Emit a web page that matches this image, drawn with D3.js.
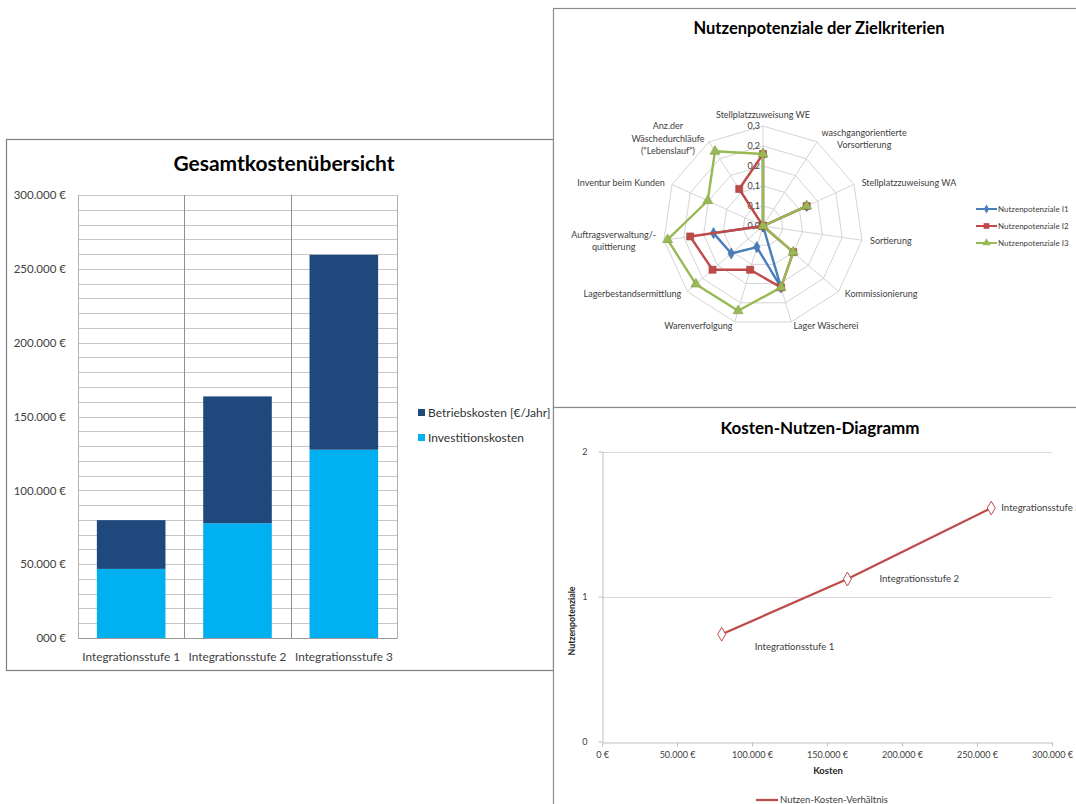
<!DOCTYPE html>
<html>
<head>
<meta charset="utf-8">
<script src="https://cdn.jsdelivr.net/npm/d3@7"></script>
<style>
  html, body { margin: 0; padding: 0; background: #fff; overflow: hidden; }
  svg { display: block; font-family: Lato, "Open Sans", sans-serif; }
</style>
</head>
<body>
<svg id="chart" width="1076" height="804"></svg>
<script>
// ---------- Gesamtkostenübersicht ----------
const stages = ["Integrationsstufe 1", "Integrationsstufe 2", "Integrationsstufe 3"];
const investitionskosten = [46800, 77700, 127500];
const betriebskosten = [33000, 85900, 132000];
const costTicks = [0, 50000, 100000, 150000, 200000, 250000, 300000];
const costTickLabels = ["000 €", "50.000 €", "100.000 €", "150.000 €", "200.000 €", "250.000 €", "300.000 €"];

// ---------- Nutzenpotenziale der Zielkriterien ----------
const criteria = [
  "Stellplatzzuweisung WE",
  "waschgangorientierte\nVorsortierung",
  "Stellplatzzuweisung WA",
  "Sortierung",
  "Kommissionierung",
  "Lager Wäscherei",
  "Warenverfolgung",
  "Lagerbestandsermittlung",
  "Auftragsverwaltung/-\nquittierung",
  "Inventur beim Kunden",
  "Anz.der\nWäschedurchläufe\n(\"Lebenslauf\")"
];
const nutzenI1 = [0.18, 0, 0.12, 0, 0, 0.16, 0.055, 0.105, 0.125, 0, 0];
const nutzenI2 = [0.18, 0, 0.12, 0, 0.10, 0.16, 0.114, 0.167, 0.184, 0, 0.11];
const nutzenI3 = [0.18, 0, 0.12, 0, 0.10, 0.16, 0.221, 0.222, 0.241, 0.152, 0.222];
const radarTicks = [0, 0.05, 0.10, 0.15, 0.20, 0.25];
const radarTickLabels = ["0,0", "0,1", "0,1", "0,2", "0,2", "0,3"];
const radarSeriesNames = ["Nutzenpotenziale I1", "Nutzenpotenziale I2", "Nutzenpotenziale I3"];

// ---------- Kosten-Nutzen-Diagramm ----------
const kosten = [79800, 163600, 259500];
const nutzen = [0.74, 1.12, 1.61];
const kostenTicks = [0, 50000, 100000, 150000, 200000, 250000, 300000];
const kostenTickLabels = ["0 €", "50.000 €", "100.000 €", "150.000 €", "200.000 €", "250.000 €", "300.000 €"];
const nutzenTicks = [0, 1, 2];

const svg = d3.select("#chart");
const axisText = "#404040";

/* ======================= Bar chart panel ======================= */
const gBar = svg.append("g");
gBar.append("rect")
  .attr("x", 6.5).attr("y", 139.5).attr("width", 547).attr("height", 531)
  .attr("fill", "#fff").attr("stroke", "#7f7f7f").attr("stroke-width", 1.2);

gBar.append("text")
  .attr("x", 284).attr("y", 164).attr("dy", "0.35em")
  .attr("text-anchor", "middle")
  .attr("font-size", 21).attr("font-weight", 700).attr("fill", "#000")
  .text("Gesamtkostenübersicht");

const xB = d3.scaleBand().domain(stages).range([78, 397]);
const yB = d3.scaleLinear().domain([0, 300000]).range([638, 195]);

// horizontal grid every 10.000 €
gBar.append("g").selectAll("line")
  .data(yB.ticks(30))
  .join("line")
  .attr("x1", 78).attr("x2", 397)
  .attr("y1", d => Math.round(yB(d)) + 0.5).attr("y2", d => Math.round(yB(d)) + 0.5)
  .attr("stroke", "#c6c6c6").attr("stroke-width", 1);

// vertical separators between categories + plot frame
const sepX = [xB.range()[0]].concat(stages.map(s => xB(s) + xB.bandwidth()));
gBar.append("g").selectAll("line")
  .data(sepX)
  .join("line")
  .attr("x1", d => Math.round(d) + 0.5).attr("x2", d => Math.round(d) + 0.5)
  .attr("y1", yB(300000)).attr("y2", yB(0))
  .attr("stroke", (d, i) => (i === 0 || i === sepX.length - 1) ? "#b0b0b0" : "#8f8f8f");

const stackRows = stages.map((s, i) => ({
  stage: s,
  Investitionskosten: investitionskosten[i],
  Betriebskosten: betriebskosten[i]
}));
const stackKeys = ["Investitionskosten", "Betriebskosten"];
const barColors = { Investitionskosten: "#00b0f0", Betriebskosten: "#1f497d" };
const stacked = d3.stack().keys(stackKeys)(stackRows);
const barW = xB.bandwidth() / 1.55;

gBar.append("g").selectAll("g")
  .data(stacked)
  .join("g")
  .attr("fill", d => barColors[d.key])
  .selectAll("rect")
  .data(d => d)
  .join("rect")
  .attr("x", d => xB(d.data.stage) + (xB.bandwidth() - barW) / 2)
  .attr("width", barW)
  .attr("y", d => yB(d[1]))
  .attr("height", d => yB(d[0]) - yB(d[1]));

// axes
const yAxisB = d3.axisLeft(yB)
  .tickValues(costTicks)
  .tickFormat((d, i) => costTickLabels[i])
  .tickSize(0).tickPadding(12);
const gyB = gBar.append("g").attr("transform", "translate(78,0)").call(yAxisB);
gyB.select(".domain").remove();
gyB.selectAll("text").attr("font-size", 11.5).attr("fill", axisText).attr("font-family", "Lato, sans-serif");

const xAxisB = d3.axisBottom(xB).tickSize(0).tickPadding(15);
const gxB = gBar.append("g").attr("transform", "translate(0,638)").call(xAxisB);
gxB.select(".domain").attr("stroke", "#9a9a9a");
gxB.selectAll("text").attr("font-size", 11.8).attr("fill", axisText).attr("font-family", "Lato, sans-serif");

// legend
const legendB = gBar.append("g");
["Betriebskosten", "Investitionskosten"].forEach((k, i) => {
  const y = 413 + i * 25;
  legendB.append("rect").attr("x", 418).attr("y", y - 4).attr("width", 7).attr("height", 7)
    .attr("fill", barColors[k]);
  legendB.append("text").attr("x", 428).attr("y", y).attr("dy", "0.35em")
    .attr("font-size", 12).attr("fill", "#333")
    .text(k === "Betriebskosten" ? "Betriebskosten [€/Jahr]" : "Investitionskosten");
});

/* ======================= Radar panel ======================= */
const gRad = svg.append("g");
gRad.append("rect")
  .attr("x", 553.5).attr("y", 8.5).attr("width", 600).attr("height", 399)
  .attr("fill", "#fff").attr("stroke", "#8c8c8c").attr("stroke-width", 1.2);

gRad.append("text")
  .attr("x", 819).attr("y", 28).attr("dy", "0.35em")
  .attr("text-anchor", "middle")
  .attr("font-size", 16.5).attr("font-weight", 700).attr("fill", "#000")
  .text("Nutzenpotenziale der Zielkriterien");

const cx = 763, cy = 226;
const rR = d3.scaleLinear().domain([0, 0.25]).range([0, 100]);
const nAx = criteria.length;
const ang = i => i * 2 * Math.PI / nAx;
const gR = gRad.append("g").attr("transform", `translate(${cx},${cy})`);

// rings
const ringLine = d3.lineRadial().angle((d, i) => ang(i)).radius(d => rR(d)).curve(d3.curveLinearClosed);
gR.append("g").selectAll("path")
  .data(radarTicks.filter(t => t > 0))
  .join("path")
  .attr("d", t => ringLine(criteria.map(() => t)))
  .attr("fill", "none").attr("stroke", "#d4d4d4").attr("stroke-width", 1);

// spokes
gR.append("g").selectAll("line")
  .data(criteria)
  .join("line")
  .attr("x1", 0).attr("y1", 0)
  .attr("x2", (d, i) => rR(0.25) * Math.sin(ang(i)))
  .attr("y2", (d, i) => -rR(0.25) * Math.cos(ang(i)))
  .attr("stroke", "#d4d4d4").attr("stroke-width", 1);

// value labels along the first spoke
gR.append("g").selectAll("text")
  .data(radarTicks)
  .join("text")
  .attr("x", -3).attr("y", d => -rR(d)).attr("dy", "0.35em")
  .attr("text-anchor", "end")
  .attr("font-size", 9).attr("fill", axisText)
  .text((d, i) => radarTickLabels[i]);

// category labels
const labelG = gR.append("g");
criteria.forEach((name, i) => {
  const a = ang(i), s = Math.sin(a), c = Math.cos(a);
  const lines = name.split("\n");
  const lx = 108 * s;
  const ly = -104 * c - (c > 0.95 ? 7 : 0);
  const t = labelG.append("text")
    .attr("font-size", 9).attr("fill", axisText).attr("text-anchor", "middle");
  lines.forEach((ln, j) => {
    t.append("tspan").attr("x", 0).attr("y", (j - (lines.length - 1) / 2) * 12.2).attr("dy", "0.35em").text(ln);
  });
  const w = t.node().getBBox().width;
  let dx = 0;
  if (s > 0.15) dx = w / 2; else if (s < -0.15) dx = -w / 2;
  t.attr("transform", `translate(${lx + dx},${ly})`);
});

// series
const radarSeries = [
  { name: radarSeriesNames[0], values: nutzenI1, color: "#4a7ebb", symbol: d3.symbolDiamond, size: 36 },
  { name: radarSeriesNames[1], values: nutzenI2, color: "#be4b48", symbol: d3.symbolSquare, size: 50 },
  { name: radarSeriesNames[2], values: nutzenI3, color: "#98b954", symbol: d3.symbolTriangle, size: 44 }
];
const seriesLine = d3.lineRadial().angle((d, i) => ang(i)).radius(d => rR(d)).curve(d3.curveLinearClosed);
radarSeries.forEach(sr => {
  const g = gR.append("g");
  g.append("path").attr("d", seriesLine(sr.values))
    .attr("fill", "none").attr("stroke", sr.color).attr("stroke-width", 2.4).attr("stroke-linejoin", "round");
  g.selectAll("path.m")
    .data(sr.values)
    .join("path").attr("class", "m")
    .attr("d", d3.symbol().type(sr.symbol).size(sr.size))
    .attr("transform", (d, i) => `translate(${rR(d) * Math.sin(ang(i))},${-rR(d) * Math.cos(ang(i))})`)
    .attr("fill", sr.color).attr("stroke", d3.color(sr.color).darker(0.4)).attr("stroke-width", 0.6);
});

// legend
const legR = gRad.append("g");
radarSeries.forEach((sr, i) => {
  const y = 209 + i * 17;
  legR.append("line").attr("x1", 976).attr("x2", 997).attr("y1", y).attr("y2", y)
    .attr("stroke", sr.color).attr("stroke-width", 2);
  legR.append("path").attr("d", d3.symbol().type(sr.symbol).size(sr.size * 0.65))
    .attr("transform", `translate(986.5,${y})`).attr("fill", sr.color);
  legR.append("text").attr("x", 998).attr("y", y).attr("dy", "0.35em")
    .attr("font-size", 8).attr("fill", axisText).text(sr.name);
});

/* ======================= Cost–benefit panel ======================= */
const gKN = svg.append("g");
gKN.append("rect")
  .attr("x", 553.5).attr("y", 407.5).attr("width", 600).attr("height", 500)
  .attr("fill", "#fff").attr("stroke", "#8c8c8c").attr("stroke-width", 1.2);

gKN.append("text")
  .attr("x", 820).attr("y", 428.5).attr("dy", "0.35em")
  .attr("text-anchor", "middle")
  .attr("font-size", 17).attr("font-weight", 700).attr("fill", "#000")
  .text("Kosten-Nutzen-Diagramm");

const xS = d3.scaleLinear().domain([0, 300000]).range([602, 1052]);
const yS = d3.scaleLinear().domain([0, 2]).range([741.5, 451.5]);

gKN.append("g").selectAll("line")
  .data(nutzenTicks.filter(t => t > 0))
  .join("line")
  .attr("x1", xS(0)).attr("x2", xS(300000))
  .attr("y1", d => Math.round(yS(d)) + 0.5).attr("y2", d => Math.round(yS(d)) + 0.5)
  .attr("stroke", "#d9d9d9").attr("stroke-width", 1.2);

const xAxisS = d3.axisBottom(xS).tickValues(kostenTicks)
  .tickFormat((d, i) => kostenTickLabels[i]).tickSizeInner(4).tickSizeOuter(0).tickPadding(5);
const gxS = gKN.append("g").attr("transform", `translate(0,${Math.round(yS(0)) + 0.5})`).call(xAxisS);
gxS.selectAll(".domain, line").attr("stroke", "#bfbfbf");
gxS.selectAll("text").attr("font-size", 9).attr("fill", axisText).attr("font-family", "Lato, sans-serif");

const yAxisS = d3.axisLeft(yS).tickValues(nutzenTicks).tickFormat(d3.format("d"))
  .tickSizeInner(4).tickSizeOuter(0).tickPadding(11);
const gyS = gKN.append("g").attr("transform", `translate(${Math.round(xS(0)) + 0.5},0)`).call(yAxisS);
gyS.selectAll(".domain, line").attr("stroke", "#bfbfbf");
gyS.selectAll("text").attr("font-size", 9).attr("fill", axisText).attr("font-family", "Lato, sans-serif");

gKN.append("text").attr("x", 828).attr("y", 771).attr("dy", "0.35em")
  .attr("text-anchor", "middle").attr("font-size", 9.5).attr("font-weight", 700).attr("fill", "#262626")
  .text("Kosten");
gKN.append("text").attr("transform", "translate(572,621) rotate(-90)").attr("dy", "0.35em")
  .attr("text-anchor", "middle").attr("font-size", 8.8).attr("font-weight", 700).attr("fill", "#262626")
  .text("Nutzenpotenziale");

const knPoints = kosten.map((k, i) => ({ k, n: nutzen[i], label: stages[i] }));
const knColor = "#be4b48";
gKN.append("path")
  .attr("d", d3.line().x(d => xS(d.k)).y(d => yS(d.n))(knPoints))
  .attr("fill", "none").attr("stroke", knColor).attr("stroke-width", 2.25);
gKN.append("g").selectAll("path")
  .data(knPoints)
  .join("path")
  .attr("d", d3.symbol().type(d3.symbolDiamond).size(55))
  .attr("transform", d => `translate(${xS(d.k)},${yS(d.n)})`)
  .attr("fill", "#fff").attr("stroke", knColor).attr("stroke-width", 1);

// data labels, placed beside their points
const knLabelOffsets = [[33, 12], [32, 0], [10, 0]];
gKN.append("g").selectAll("text")
  .data(knPoints)
  .join("text")
  .attr("x", (d, i) => xS(d.k) + knLabelOffsets[i][0])
  .attr("y", (d, i) => yS(d.n) + knLabelOffsets[i][1])
  .attr("dy", "0.35em")
  .attr("font-size", 9.6).attr("fill", axisText)
  .text(d => d.label);

// legend
gKN.append("line").attr("x1", 756).attr("x2", 778).attr("y1", 800).attr("y2", 800)
  .attr("stroke", knColor).attr("stroke-width", 2.25);
gKN.append("text").attr("x", 780).attr("y", 800).attr("dy", "0.35em")
  .attr("font-size", 9.5).attr("fill", axisText).text("Nutzen-Kosten-Verhältnis");
</script>
</body>
</html>
